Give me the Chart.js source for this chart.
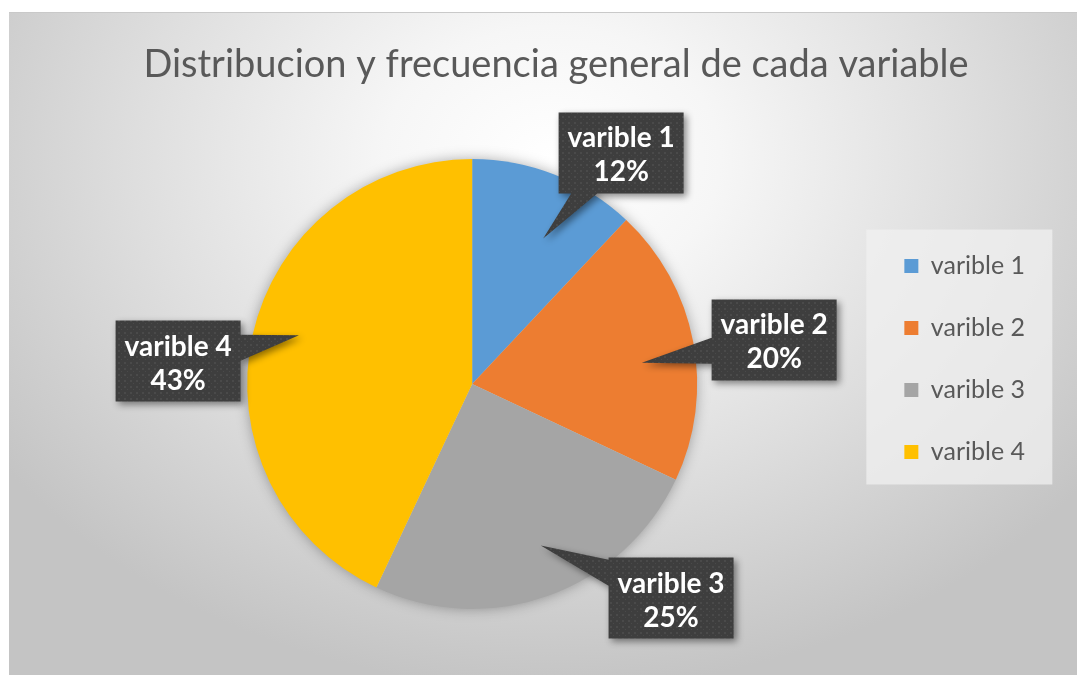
<!DOCTYPE html>
<html>
<head>
<meta charset="utf-8">
<script src="https://cdn.jsdelivr.net/npm/chart.js@4.4.1/dist/chart.umd.min.js"></script>
<style>
  html, body { margin: 0; padding: 0; background: #fff; overflow: hidden; }
  #wrap {
    position: absolute; left: 9px; top: 12px; width: 1086px; height: 663px;
    background: radial-gradient(ellipse 62% 80% at 50% 22%, #ffffff 0%, #f6f6f6 25%, #dedede 62%, #c4c4c4 100%);
    border-top: 1px solid #c9c9c9;
  }
</style>
</head>
<body>
<div id="wrap"><canvas id="myChart" width="1086" height="663"></canvas></div>
<script>
// data
const categories = ['varible 1', 'varible 2', 'varible 3', 'varible 4'];
const shares = [12, 20, 25, 43];
const sliceColors = ['#5B9BD5', '#ED7D31', '#A5A5A5', '#FFC000'];

// where each callout box sits, relative to the pie centre (in pie radii)
const calloutOffsets = [[0.662, -1.027], [1.342, -0.196], [0.884, 0.951], [-1.307, -0.102]];
// pointer tip: degrees away from the slice middle, and distance in radii
const calloutTips = [[4.4, 0.72], [3.7, 0.76], [-3.2, 0.78], [3.1, 0.80]];

const FONT = 'Lato, Calibri, Carlito, "Open Sans", sans-serif';

//* small dotted texture like the excel callouts
function makePattern(ctx) {
  const c = document.createElement('canvas');
  c.width = 6; c.height = 6;
  const p = c.getContext('2d');
  p.fillStyle = '#3e3e3e';
  p.fillRect(0, 0, 6, 6);
  p.fillStyle = '#4a4a4a';
  p.fillRect(1, 1, 2, 2);
  p.fillRect(4, 4, 1, 1);
  return ctx.createPattern(c, 'repeat');
}

//* soft shadow under the whole pie
const pieShadow = {
  id: 'pieShadow',
  beforeDatasetsDraw(chart) {
    const arc = chart.getDatasetMeta(0).data[0];
    if (!arc) return;
    const ctx = chart.ctx;
    ctx.save();
    ctx.shadowColor = 'rgba(0,0,0,0.35)';
    ctx.shadowBlur = 14;
    ctx.fillStyle = '#cfcfcf';
    ctx.beginPath();
    ctx.arc(arc.x, arc.y, arc.outerRadius - 1, 0, Math.PI * 2);
    ctx.fill();
    ctx.restore();
  }
};

//* light box behind the legend
const legendBox = {
  id: 'legendBox',
  afterLayout(chart) {
    // excel puts the legend column a bit lower
    chart.legend.top += 48;
    chart.legend.bottom += 48;
  },
  beforeDraw(chart) {
    const hb = chart.legend.legendHitBoxes;
    if (!hb || !hb.length) return;
    const ctx = chart.ctx;
    const x = hb[0].left - 38;
    const y = hb[0].top - 24;
    const h = hb[hb.length - 1].top + hb[hb.length - 1].height + 20 - y;
    ctx.save();
    ctx.fillStyle = 'rgba(240,240,240,0.75)';
    ctx.fillRect(x, y, 186, h);
    ctx.restore();
  }
};

//* dark callout boxes with a pointer into each slice
const callouts = {
  id: 'callouts',
  afterDatasetsDraw(chart) {
    const ctx = chart.ctx;
    const meta = chart.getDatasetMeta(0);
    const data = chart.data.datasets[0].data;
    const total = data.reduce((a, b) => a + b, 0);
    const fill = makePattern(ctx);
    meta.data.forEach((arc, i) => {
      const r = arc.outerRadius;
      const ang = (arc.startAngle + arc.endAngle) / 2 + calloutTips[i][0] * Math.PI / 180;
      const tx = arc.x + Math.cos(ang) * r * calloutTips[i][1];
      const ty = arc.y + Math.sin(ang) * r * calloutTips[i][1];
      const bw = 125, bh = 81;
      const cx = arc.x + calloutOffsets[i][0] * r;
      const cy = arc.y + calloutOffsets[i][1] * r;
      const x0 = cx - bw / 2, y0 = cy - bh / 2;
      const dx = tx - cx, dy = ty - cy;
      const tv = Math.abs((bw / 2) / dx);
      const th = Math.abs((bh / 2) / dy);
      const t = Math.min(tv, th);
      const bx = cx + dx * t, by = cy + dy * t;
      let b1, b2;
      if (tv < th) {
        const yy = Math.min(Math.max(by, y0 + 14), y0 + bh - 14);
        b1 = [bx, yy - 13]; b2 = [bx, yy + 13];
      } else {
        const xx = Math.min(Math.max(bx, x0 + 14), x0 + bw - 14);
        b1 = [xx - 13, by]; b2 = [xx + 13, by];
      }
      ctx.save();
      ctx.shadowColor = 'rgba(0,0,0,0.45)';
      ctx.shadowBlur = 7;
      ctx.shadowOffsetX = 3;
      ctx.shadowOffsetY = 3;
      ctx.fillStyle = fill;
      ctx.beginPath();
      ctx.rect(x0, y0, bw, bh);
      ctx.moveTo(b1[0], b1[1]);
      ctx.lineTo(tx, ty);
      ctx.lineTo(b2[0], b2[1]);
      ctx.closePath();
      ctx.fill();
      ctx.restore();

      ctx.save();
      ctx.fillStyle = '#ffffff';
      ctx.font = 'bold 28px ' + FONT;
      ctx.textAlign = 'center';
      ctx.textBaseline = 'middle';
      ctx.fillText(chart.data.labels[i], cx, y0 + 26);
      ctx.fillText(Math.round(data[i] / total * 100) + '%', cx, y0 + 60);
      ctx.restore();
    });
  }
};

function charting() {
  const el = document.getElementById('myChart');
  const config = {
    type: 'pie',
    data: {
      labels: categories,
      datasets: [{
        data: shares,
        backgroundColor: sliceColors,
        borderWidth: 0
      }]
    },
    options: {
      responsive: false,
      animation: false,
      devicePixelRatio: 1,
      layout: { padding: { left: 68, right: 60, top: 0, bottom: 67 } },
      plugins: {
        tooltip: { enabled: false },
        title: {
          display: true,
          text: 'Distribucion y frecuencia general de cada variable',
          color: '#595959',
          font: { family: FONT, size: 38, weight: 'normal' },
          padding: { top: 29.2, bottom: 71.2 }
        },
        legend: {
          position: 'right',
          labels: {
            boxWidth: 14,
            boxHeight: 14,
            padding: 37,
            color: '#595959',
            font: { family: FONT, size: 25 }
          }
        }
      }
    },
    plugins: [legendBox, pieShadow, callouts]
  };
  const nChart = new Chart(el, config);
}
charting();
</script>
</body>
</html>
